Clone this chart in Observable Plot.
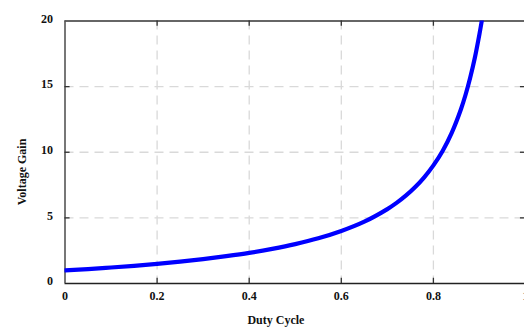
<!DOCTYPE html>
<html>
<head>
<meta charset="utf-8">
<script src="https://cdn.jsdelivr.net/npm/d3@7"></script>
<script src="https://cdn.jsdelivr.net/npm/@observablehq/plot@0.6"></script>
<style>
  html, body { margin: 0; padding: 0; background: #fff; overflow: hidden; }
  #chart svg { display: block; }
  #chart svg text { font-family: "Liberation Serif", "Times New Roman", serif; font-weight: bold; }
</style>
</head>
<body>
<div id="chart"></div>
<script>
// Duty cycle (D) and the corresponding voltage gain of the converter
const dutyCycle = [0, 0.05, 0.1, 0.15, 0.2, 0.25, 0.3, 0.35, 0.4, 0.45, 0.5, 0.55, 0.6,
  0.65, 0.7, 0.72, 0.74, 0.76, 0.78, 0.8, 0.82, 0.84, 0.86, 0.87, 0.88, 0.89, 0.9, 0.905];
const voltageGain = [1, 1.1, 1.22, 1.35, 1.5, 1.67, 1.86, 2.08, 2.33, 2.64, 3, 3.44, 4,
  4.71, 5.67, 6.14, 6.69, 7.33, 8.09, 9, 10.1, 11.5, 13.3, 14.4, 15.7, 17.2, 19, 20];

const xTicks = [0, 0.2, 0.4, 0.6, 0.8, 1];
const yTicks = [0, 5, 10, 15, 20];
const xGrid = [0.2, 0.4, 0.6, 0.8];
const yGrid = [5, 10, 15];

const curve = dutyCycle.map((d, i) => ({d, g: voltageGain[i]}));

const font = "Liberation Serif";
const label = {fontFamily: font, fontSize: 12, fontWeight: "bold", fill: "#111"};
const tickLenX = 0.011; // inward tick length in x units
const tickLenY = 0.4;   // inward tick length in y units

const chart = Plot.plot({
  width: 524,
  height: 329,
  marginLeft: 64.5,
  marginRight: -1,
  marginTop: 20.5,
  marginBottom: 46,
  style: {fontFamily: font, background: "#fff"},
  x: {domain: [0, 1], axis: null},
  y: {domain: [0, 20], axis: null},
  marks: [
    // dashed grid
    Plot.ruleX(xGrid, {stroke: "#d9d9d9", strokeWidth: 1.3, strokeDasharray: "9,6"}),
    Plot.ruleY(yGrid, {stroke: "#d9d9d9", strokeWidth: 1.3, strokeDasharray: "9,6"}),
    // frame
    Plot.ruleY([0], {stroke: "#222", strokeWidth: 1.3}),
    Plot.ruleY([20], {stroke: "#333", strokeWidth: 1.3}),
    Plot.ruleX([0], {stroke: "#555", strokeWidth: 1.6}),
    Plot.ruleX([1], {stroke: "#333", strokeWidth: 1.3}),
    // inward ticks
    Plot.ruleX(xGrid, {y1: 0, y2: tickLenY, stroke: "#333", strokeWidth: 1.3}),
    Plot.ruleX(xGrid, {y1: 20, y2: 20 - tickLenY, stroke: "#333", strokeWidth: 1.3}),
    Plot.ruleY(yGrid, {x1: 0, x2: tickLenX, stroke: "#333", strokeWidth: 1.3}),
    Plot.ruleY(yGrid, {x1: 1, x2: 1 - tickLenX, stroke: "#333", strokeWidth: 1.3}),
    // gain curve
    Plot.line(curve, {x: "d", y: "g", stroke: "#0000ff", strokeWidth: 4.2, curve: "catmull-rom", clip: true}),
    // tick labels
    Plot.text(xTicks, {x: d => d, y: 0, text: d => String(d), dy: 13, textAnchor: "middle", ...label}),
    Plot.text(yTicks, {x: 0, y: d => d, text: d => String(d), dx: -12, dy: -2, textAnchor: "end", ...label}),
    // axis titles
    Plot.text(["Duty Cycle"], {x: 0.458, y: 0, dy: 37, text: d => d, ...label}),
    Plot.text(["Voltage Gain"], {x: 0, y: 8.5, dx: -43, rotate: -90, text: d => d, ...label})
  ]
});

document.getElementById("chart").appendChild(chart);
</script>
</body>
</html>
